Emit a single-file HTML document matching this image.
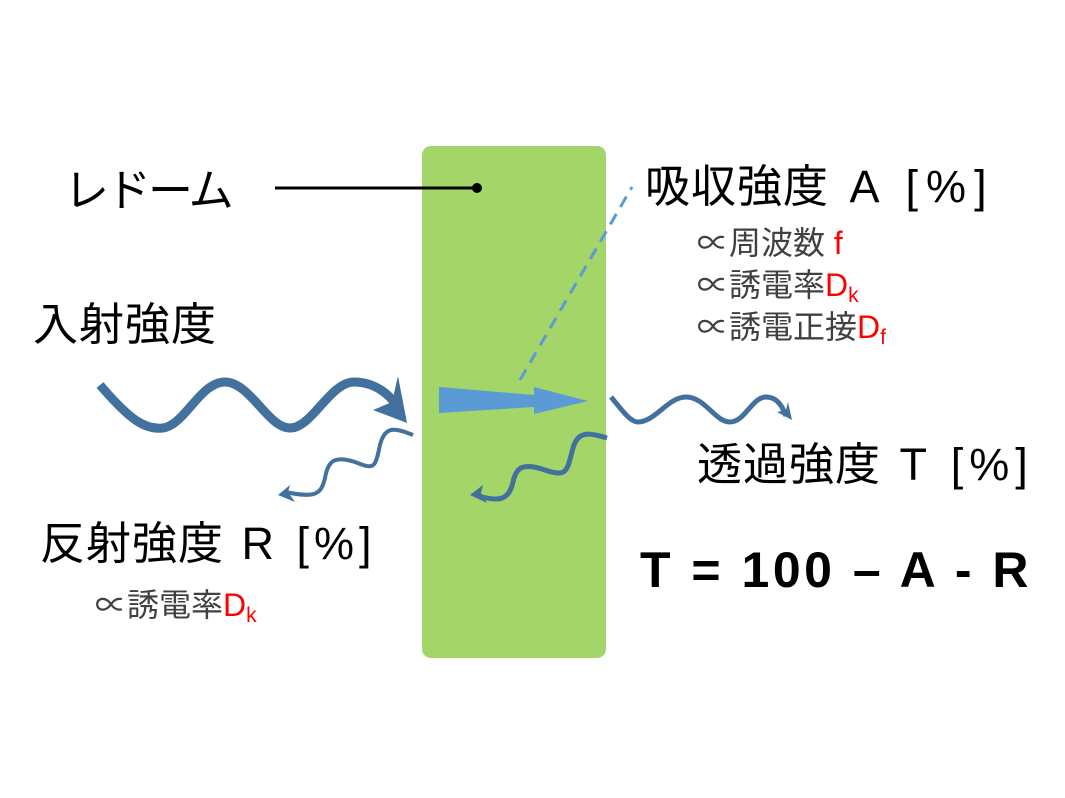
<!DOCTYPE html>
<html><head><meta charset="utf-8"><style>
html,body{margin:0;padding:0;background:#fff;}
#c{position:relative;width:1065px;height:798px;overflow:hidden;font-family:"Liberation Sans","Noto Sans CJK JP",sans-serif;}
.t{position:absolute;white-space:nowrap;color:#000;font-size:45px;line-height:50px;letter-spacing:1px;}
.s{position:absolute;white-space:nowrap;color:#404040;font-size:32px;line-height:32px;}
.r{color:#ff0000;}
sub{font-size:21px;vertical-align:-6px;}
</style></head><body><div id="c">
<svg width="1065" height="798" style="position:absolute;left:0;top:0">
<rect x="422" y="146" width="184" height="512" rx="9" fill="#a3d568"/>
<line x1="275" y1="188" x2="477" y2="188" stroke="#000" stroke-width="3"/>
<circle cx="477" cy="188" r="5" fill="#000"/>
<line x1="520" y1="380" x2="632" y2="187" stroke="#5b9bd5" stroke-width="3" stroke-dasharray="12,8"/>
<path d="M100,385 C130,420 145,430 163,428 C185,425 200,382 225,382 C250,382 268,428 290,428 C312,428 330,382 354,382 C375,382 392,395 400,412" fill="none" stroke="#41719c" stroke-width="9"/>
<polygon points="407,423 373,410 392,402 398,376" fill="#41719c"/>
<polygon points="439,387 534,395 534,387 588,401 534,414 534,407 439,413" fill="#5b9bd5"/>
<path d="M611,397 C622,410 630,422 638,422 C655,422 668,397 686,397 C705,397 715,422 730,422 C745,422 752,397 766,397 C778,397 783,408 786,416" fill="none" stroke="#41719c" stroke-width="5"/>
<polygon points="792,420 777,412 786,410 788,402" fill="#41719c"/>
<path d="M413,435 C395,428 385,425 380,445 C375,468 375,470 355,462 C333,455 328,462 325,478 C321,495 315,498 285,492" fill="none" stroke="#41719c" stroke-width="4"/>
<polygon points="278,495 290,485 288,492 295,502" fill="#41719c"/>
<path d="M607,438 C590,433 578,430 573,448 C567,470 568,478 545,470 C522,462 516,468 513,482 C509,500 500,502 478,496" fill="none" stroke="#41719c" stroke-width="5"/>
<polygon points="470,495 483,485 481,493 487,503" fill="#41719c"/>
</svg>
<div class="t" style="left:64px;top:166px;letter-spacing:-3px;">レドーム</div>
<div class="t" style="left:33px;top:300px;">入射強度</div>
<div class="t" style="left:645px;top:162px;">吸収強度<span style="letter-spacing:8px"> A [%]</span></div>
<div class="s" style="left:697px;top:227px;">∝周波数 <span class="r">f</span></div>
<div class="s" style="left:697px;top:269px;">∝誘電率<span class="r">D<sub>k</sub></span></div>
<div class="s" style="left:697px;top:311px;">∝誘電正接<span class="r">D<sub>f</sub></span></div>
<div class="t" style="left:697px;top:440px;">透過強度<span style="letter-spacing:6px"> T [%]</span></div>
<div class="t" style="left:40px;top:519px;">反射強度<span style="letter-spacing:5px"> R [%]</span></div>
<div class="s" style="left:95px;top:589px;">∝誘電率<span class="r">D<sub>k</sub></span></div>
<div class="t" style="left:640px;top:545px;font-size:50px;font-weight:bold;letter-spacing:3.5px;">T = 100 – A - R</div>
</div></body></html>
